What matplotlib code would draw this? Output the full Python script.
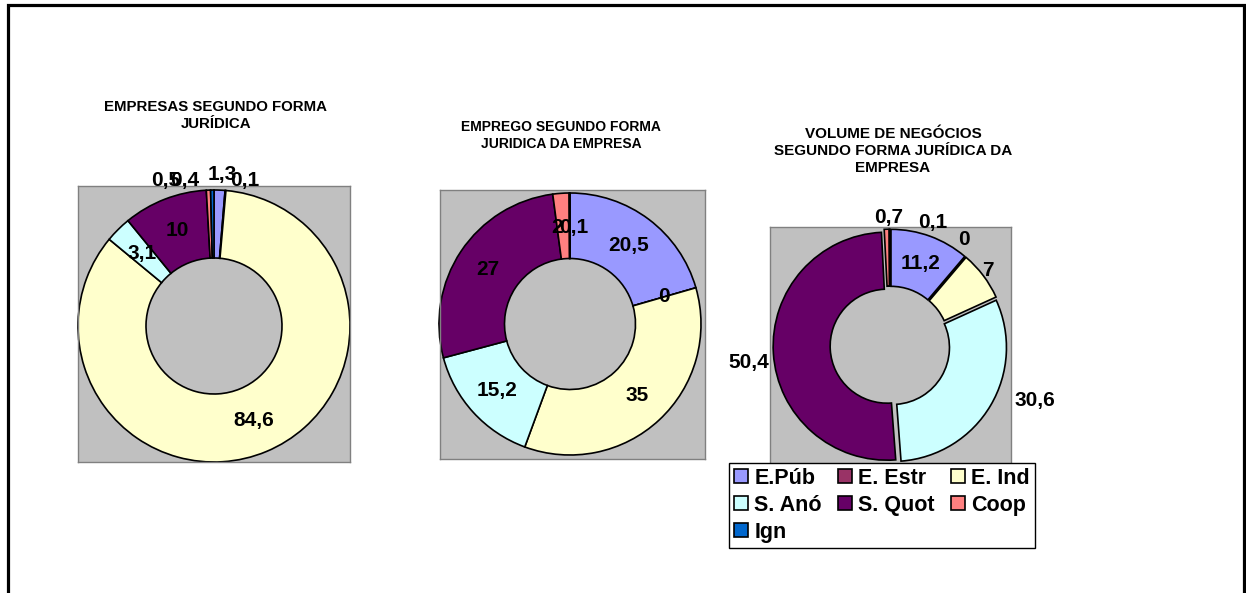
import numpy as np
import matplotlib
matplotlib.use('Agg')
import matplotlib.pyplot as plt
from matplotlib.patches import Patch, Rectangle

plt.rcParams['font.family'] = ['Liberation Sans', 'DejaVu Sans']
plt.rcParams['font.weight'] = 'bold'

# categorias e cores (paleta Excel)
labels = ['E.Púb', 'E. Estr', 'E. Ind', 'S. Anó', 'S. Quot', 'Coop', 'Ign']
colors = ['#9999FF', '#993366', '#FFFFCC', '#CCFFFF', '#660066', '#FF8080', '#0066CC']

# valores (%) de cada gráfico
empresas = [1.3, 0.1, 84.6, 3.1, 10, 0.5, 0.4]
emprego = [20.5, 0, 35, 15.2, 27, 2, 0.1]
volume = [11.2, 0, 7, 30.6, 50.4, 0.7, 0.1]

titles = ['EMPRESAS SEGUNDO FORMA\nJURÍDICA',
          'EMPREGO SEGUNDO FORMA\nJURIDICA DA EMPRESA',
          'VOLUME DE NEGÓCIOS\nSEGUNDO FORMA JURÍDICA DA\nEMPRESA']

W, H = 1246, 593
fig = plt.figure(figsize=(W / 100, H / 100), dpi=100)

# moldura exterior
fig.add_artist(Rectangle((7.5 / W, -0.1), (1243.5 - 7.5) / W, 1.1 - 4.8 / H,
                         transform=fig.transFigure, fill=False, lw=2.3,
                         edgecolor='black', clip_on=False))

# (caixa px: esq, topo, dir, baixo), centro px, raio px
boxes = [(78, 186, 350, 462), (440, 190, 705, 459), (770, 227, 1011, 465)]
centers = [(214, 326), (570, 324), (890, 346)]
radii = [136, 131, 114]
explodes = [0, 0, 0.025]
# deslocamento dos rótulos (px) em relação ao meio do anel
offsets = [
    [(4, 50), (22, 44), (0, 0), (0, 0), (0, 0), (-44, 44), (-28, 44)],
    [(0, 0), (0, 0), (0, 0), (0, 0), (0, 0), (-6, -2), (4, -2)],
    [(0, 0), (17, 39), (27, 22), (69, -10), (-53, -11), (1, 40), (43, 35)],
]
title_pos = [(216, 115.3, 10.8), (561, 135.3, 10.0), (893, 151, 11.0)]

for i, vals in enumerate([empresas, emprego, volume]):
    l, t, r, b = boxes[i]
    cx, cy = centers[i]
    R = radii[i]
    ax = fig.add_axes([l / W, 1 - b / H, (r - l) / W, (b - t) / H])
    wedges, _ = ax.pie(vals, colors=colors, startangle=90, counterclock=False,
                       radius=1, explode=[explodes[i]] * len(vals), frame=True,
                       wedgeprops=dict(width=0.5, edgecolor='black', linewidth=1.2))
    ax.set_facecolor('#C0C0C0')
    for s in ax.spines.values():
        s.set_edgecolor('#808080')
        s.set_linewidth(1)
    ax.set_xticks([])
    ax.set_yticks([])
    ax.set_xlim((l - cx) / R, (r - cx) / R)
    ax.set_ylim((cy - b) / R, (cy - t) / R)
    ax.set_aspect('auto')
    for w, v, off in zip(wedges, vals, offsets[i]):
        ang = np.deg2rad((w.theta1 + w.theta2) / 2)
        x = w.center[0] + 0.75 * np.cos(ang)
        y = w.center[1] + 0.75 * np.sin(ang)
        txt = f'{v:g}'.replace('.', ',')
        ax.annotate(txt, xy=(x, y), xytext=off, textcoords='offset pixels',
                    ha='center', va='center', fontsize=15, fontweight='bold',
                    annotation_clip=False)
    tx, ty, fs = title_pos[i]
    fig.text(tx / W, 1 - ty / H, titles[i], ha='center', va='center',
             fontsize=fs, fontweight='bold', linespacing=1.3)

# legenda (ordem por linhas com 3 colunas)
handles = [Patch(facecolor=c, edgecolor='black', linewidth=1.2) for c in colors]
order = [0, 3, 6, 1, 4, 2, 5]
fig.legend([handles[k] for k in order], [labels[k] for k in order], ncol=3,
           loc='upper left', bbox_to_anchor=(729 / W, 1 - 463 / H),
           borderaxespad=0, frameon=True, fancybox=False, framealpha=1,
           edgecolor='black', handlelength=0.65, handleheight=0.65,
           handletextpad=0.3, columnspacing=0.75, labelspacing=0.28, borderpad=0.22,
           prop=dict(weight='bold', size=15.5))

fig.savefig('out.png', dpi=100)
